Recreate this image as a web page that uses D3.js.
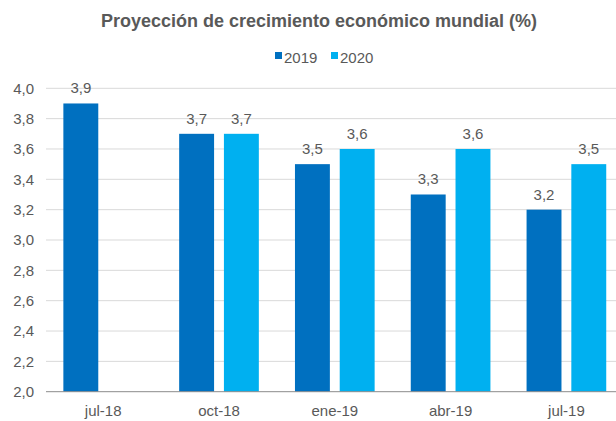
<!DOCTYPE html>
<html><head><meta charset="utf-8">
<script src="https://cdn.jsdelivr.net/npm/d3@7"></script>
<style>body{margin:0;background:#fff}svg{display:block;font-family:"Liberation Sans",Arial,sans-serif}</style>
</head><body><svg id="c" width="616" height="421"></svg>
<script>
const categories = ["jul-18","oct-18","ene-19","abr-19","jul-19"];
const seriesNames = ["2019","2020"];
const values2019 = [3.9, 3.7, 3.5, 3.3, 3.2];
const values2020 = [null, 3.7, 3.6, 3.6, 3.5];
const yTicks = [2.0,2.2,2.4,2.6,2.8,3.0,3.2,3.4,3.6,3.8,4.0];
const colors = ["#0070C0","#00B0F0"];
const title = "Proyección de crecimiento económico mundial (%)";

const svg = d3.select("#c");
const fmt = v => d3.format(".1f")(v).replace(".", ",");
const x0 = d3.scaleBand().domain(categories).range([45.3, 624.3]).paddingInner(0.312).paddingOuter(0.156);
const x1 = d3.scaleBand().domain(seriesNames).range([0, x0.bandwidth()]).paddingInner(0.22);
const y = d3.scaleLinear().domain([2.0, 4.0]).range([391.7, 88.3]);

// gridlines
svg.append("g").selectAll("line").data(yTicks.slice(1)).join("line")
  .attr("x1", 46).attr("x2", 616).attr("y1", d => y(d)).attr("y2", d => y(d))
  .attr("stroke", "#d9d9d9").attr("stroke-width", 1);

// y axis labels
const yAxis = d3.axisLeft(y).tickValues(yTicks).tickFormat(fmt).tickSize(0).tickPadding(0);
const ya = svg.append("g").attr("transform", "translate(34,0)").call(yAxis);
ya.select(".domain").remove();
ya.selectAll("text").attr("fill", "#595959").attr("font-size", 15).attr("font-family", "Liberation Sans, Arial, sans-serif");

const data = categories.map((c, i) => ({cat: c, vals: [
  {s: "2019", v: values2019[i], c: colors[0]},
  {s: "2020", v: values2020[i], c: colors[1]}]}));

const groups = svg.append("g").selectAll("g").data(data).join("g")
  .attr("transform", d => `translate(${x0(d.cat)},0)`);
groups.selectAll("rect").data(d => d.vals.filter(e => e.v != null)).join("rect")
  .attr("x", d => x1(d.s)).attr("width", x1.bandwidth())
  .attr("y", d => y(d.v)).attr("height", d => y(2.0) - y(d.v))
  .attr("fill", d => d.c);
groups.selectAll("text").data(d => d.vals.filter(e => e.v != null)).join("text")
  .attr("x", d => x1(d.s) + x1.bandwidth() / 2).attr("y", d => y(d.v) - 10)
  .attr("text-anchor", "middle").attr("font-size", 15).attr("fill", "#595959")
  .text(d => fmt(d.v));

// x axis
const xAxis = d3.axisBottom(x0).tickSize(0).tickPadding(14);
const xa = svg.append("g").attr("transform", `translate(0,${y(2.0)})`).call(xAxis);
xa.select(".domain").remove();
xa.selectAll("text").attr("fill", "#595959").attr("font-size", 15).attr("font-family", "Liberation Sans, Arial, sans-serif");
svg.append("line").attr("x1", 46).attr("x2", 616).attr("y1", y(2.0)).attr("y2", y(2.0))
  .attr("stroke", "#8c8c8c").attr("stroke-width", 1);

// title
svg.append("text").attr("x", 319).attr("y", 27).attr("text-anchor", "middle")
  .attr("font-size", 18).attr("font-weight", "bold").attr("fill", "#595959").text(title);

// legend
const legX = [275, 331];
const leg = svg.append("g").selectAll("g").data(seriesNames).join("g")
  .attr("transform", (d, i) => `translate(${legX[i]},52)`);
leg.append("rect").attr("width", 7).attr("height", 7).attr("fill", (d, i) => colors[i]);
leg.append("text").attr("x", 9).attr("y", 10.7).attr("font-size", 15).attr("fill", "#595959").text(d => d);
</script></body></html>
